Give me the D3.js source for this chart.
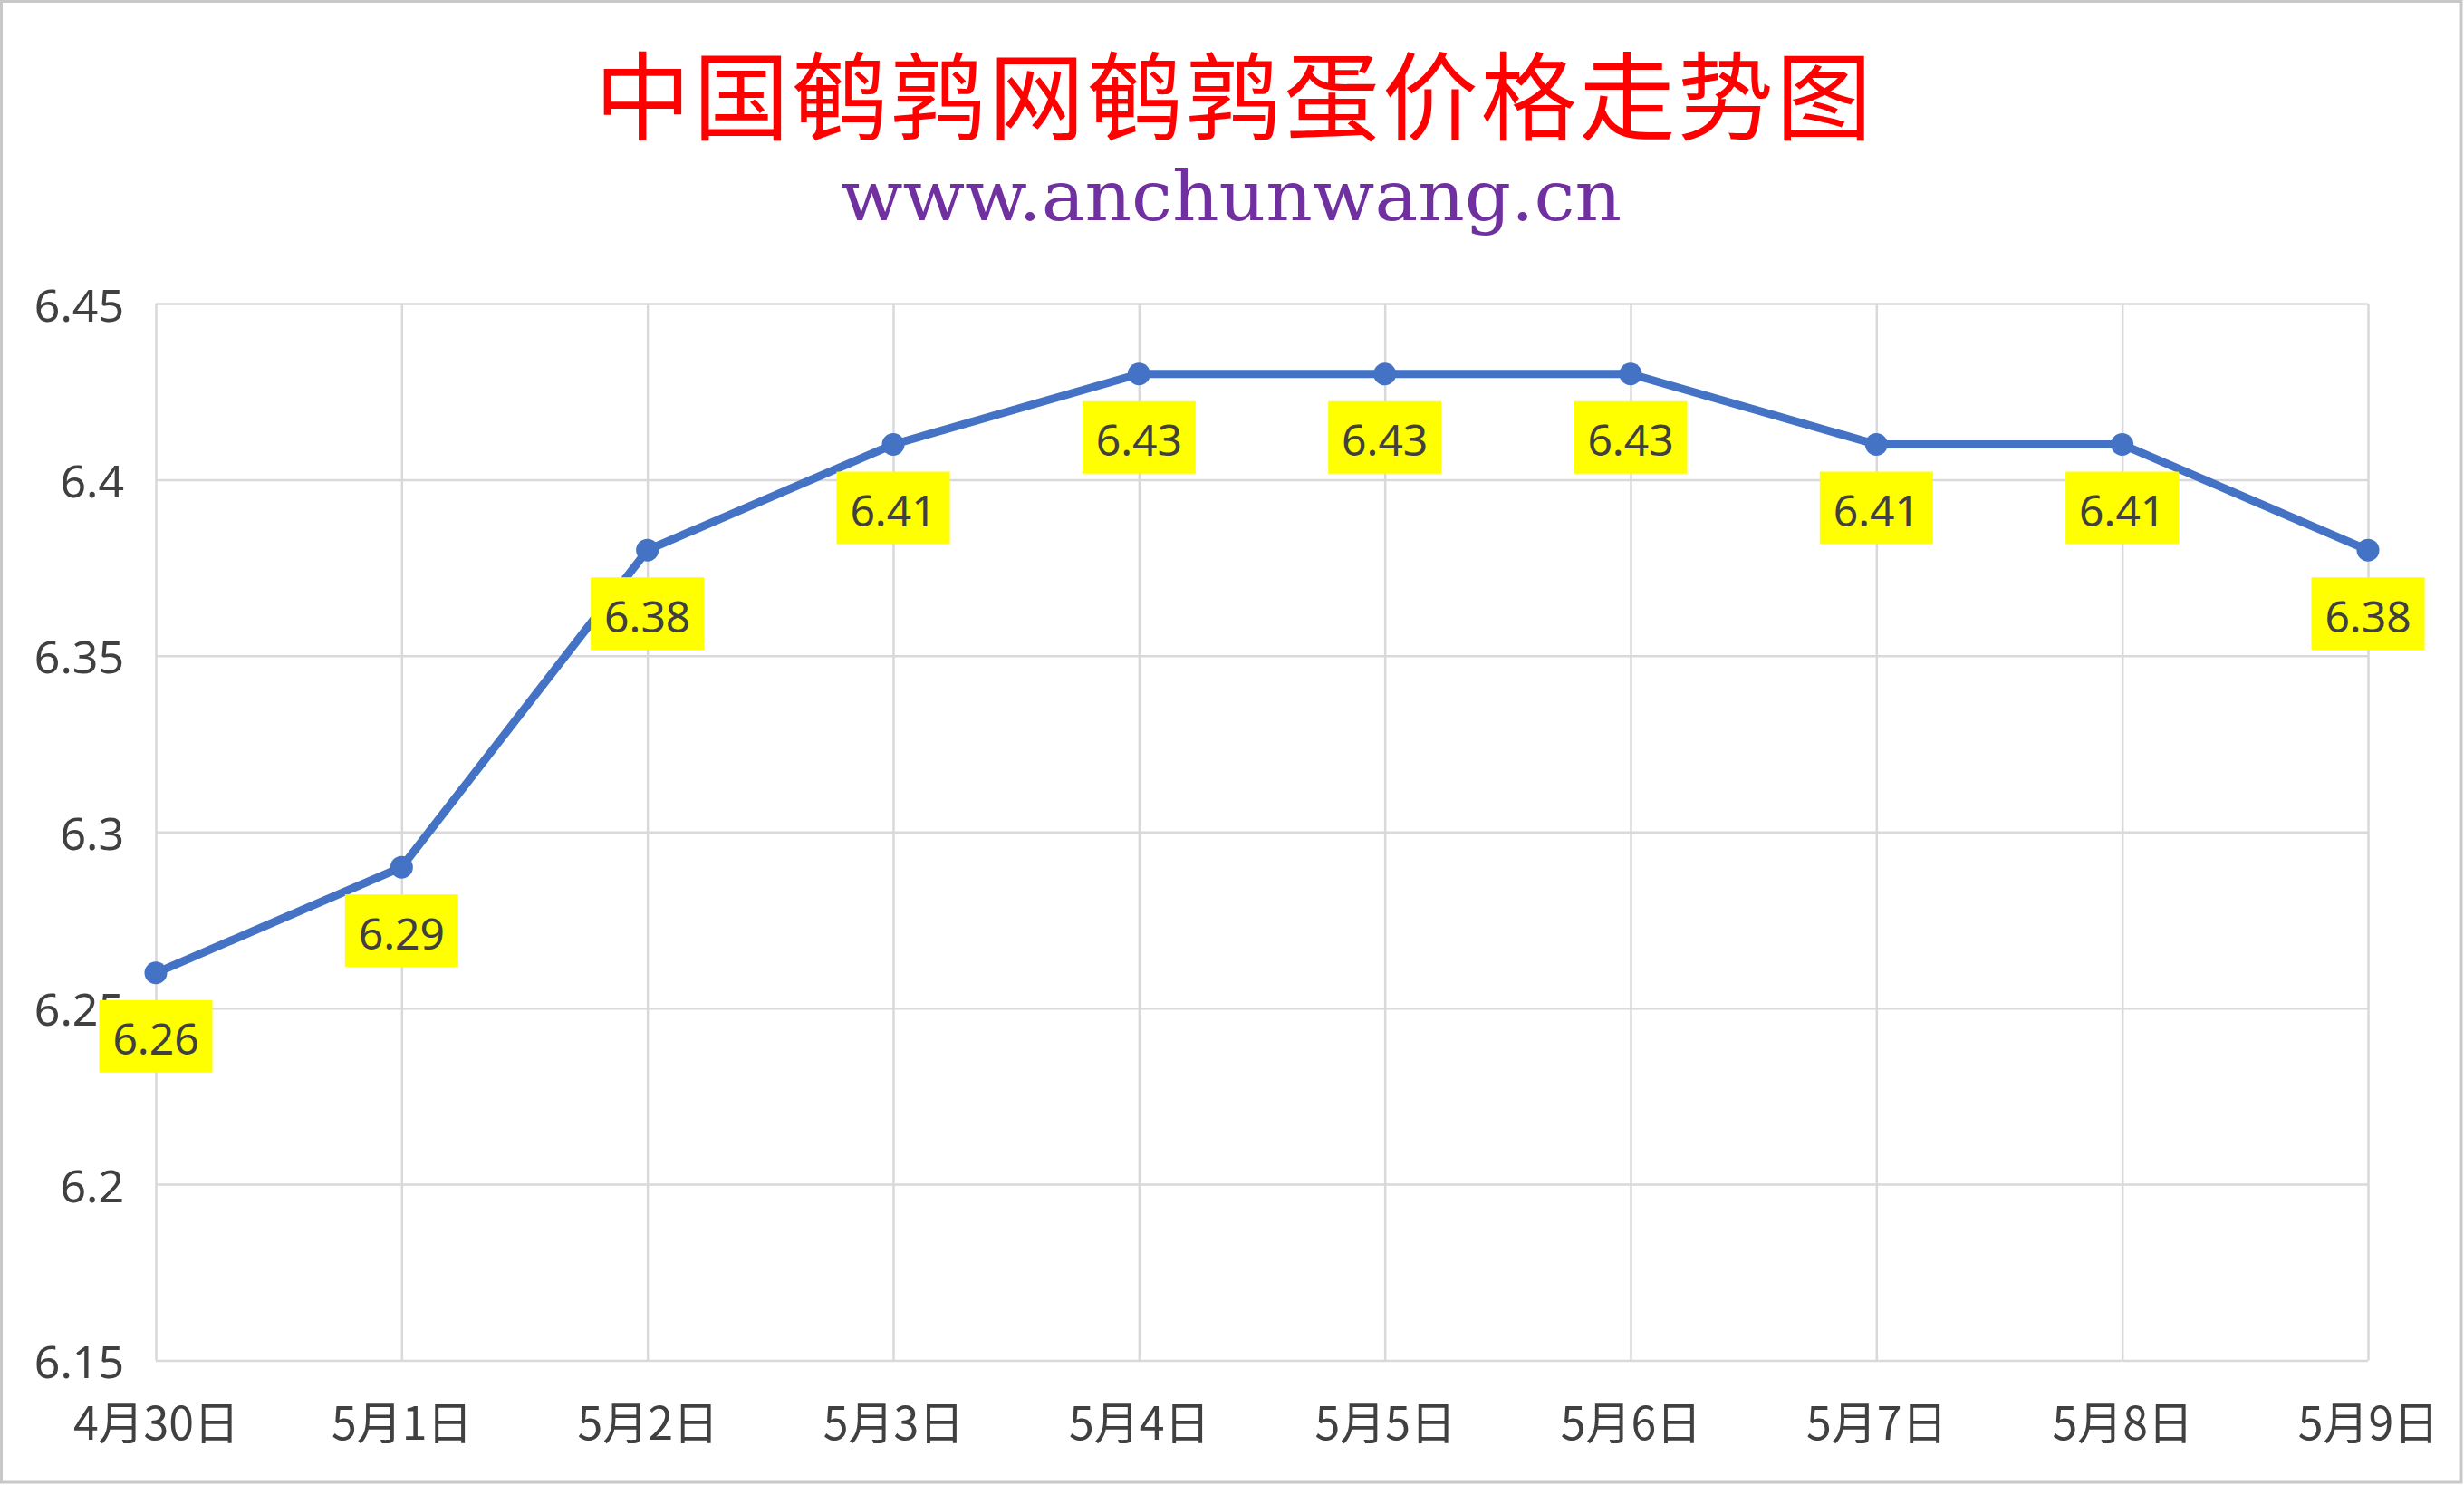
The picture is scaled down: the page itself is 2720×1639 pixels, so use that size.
<!DOCTYPE html>
<html>
<head>
<meta charset="utf-8">
<script src="https://cdn.jsdelivr.net/npm/d3@7"></script>
<style>
  html, body { margin: 0; padding: 0; background: #ffffff; }
  svg { display: block; }
</style>
</head>
<body>
<svg id="chart" width="2720" height="1639"></svg>
<script>
// ---- data ----
const titleText = "中国鹌鹑网鹌鹑蛋价格走势图";
const subtitleText = "www.anchunwang.cn";
const categories = ["4月30日", "5月1日", "5月2日", "5月3日", "5月4日", "5月5日", "5月6日", "5月7日", "5月8日", "5月9日"];
const prices = [6.26, 6.29, 6.38, 6.41, 6.43, 6.43, 6.43, 6.41, 6.41, 6.38];
const yTicks = [6.15, 6.2, 6.25, 6.3, 6.35, 6.4, 6.45];
const yTickLabels = ["6.15", "6.2", "6.25", "6.3", "6.35", "6.4", "6.45"];
const yDomain = [6.15, 6.45];

// ---- layout ----
const W = 2720, H = 1639;
const plot = { left: 172, right: 2614, top: 335, bottom: 1501.5 };
const svg = d3.select("#chart");

// background + border
svg.append("rect").attr("x", 0).attr("y", 0).attr("width", W).attr("height", H).attr("fill", "#ffffff");
svg.append("rect").attr("x", 1.5).attr("y", 1.5).attr("width", W - 4.5).attr("height", H - 4.5)
  .attr("fill", "none").attr("stroke", "#C8C8C8").attr("stroke-width", 3);

// scales
const x = d3.scalePoint().domain(categories).range([plot.left, plot.right]).padding(0);
const y = d3.scaleLinear().domain(yDomain).range([plot.bottom, plot.top]);

const gridColor = "#D9D9D9";
const textColor = "#404040";

// y axis + horizontal gridlines
const yAxis = d3.axisLeft(y)
  .tickValues(yTicks)
  .tickFormat((d, i) => yTickLabels[i])
  .tickSize(-(plot.right - plot.left))
  .tickPadding(35);
const gy = svg.append("g").attr("transform", `translate(${plot.left},0)`).call(yAxis);
gy.select(".domain").remove();
gy.selectAll(".tick line").attr("stroke", gridColor).attr("stroke-width", 2.5);
gy.selectAll(".tick text")
  .attr("x", 137 - plot.left)
  .attr("dy", null)
  .attr("dominant-baseline", "central")
  .attr("text-anchor", "end")
  .attr("fill", textColor)
  .style("font-family", "'Noto Sans', 'DejaVu Sans', sans-serif")
  .style("font-size", "50px");

// x axis + vertical gridlines
const xAxis = d3.axisBottom(x)
  .tickSize(-(plot.bottom - plot.top))
  .tickPadding(0);
const gx = svg.append("g").attr("transform", `translate(0,${plot.bottom})`).call(xAxis);
gx.select(".domain").remove();
gx.selectAll(".tick line").attr("stroke", gridColor).attr("stroke-width", 2.5);
gx.selectAll(".tick text")
  .attr("y", 1567 - plot.bottom)
  .attr("dy", null)
  .attr("dominant-baseline", "central")
  .attr("fill", textColor)
  .style("font-family", "'Noto Sans CJK SC', 'Noto Sans', sans-serif")
  .style("font-size", "50px");

// line
const lineColor = "#4472C4";
const line = d3.line().x((d, i) => x(categories[i])).y(d => y(d));
svg.append("path")
  .datum(prices)
  .attr("d", line)
  .attr("fill", "none")
  .attr("stroke", lineColor)
  .attr("stroke-width", 9)
  .attr("stroke-linejoin", "round")
  .attr("stroke-linecap", "round");

// markers
svg.append("g").selectAll("circle")
  .data(prices)
  .join("circle")
  .attr("cx", (d, i) => x(categories[i]))
  .attr("cy", d => y(d))
  .attr("r", 12.5)
  .attr("fill", lineColor);

// data labels
const labW = 125, labH = 80, labOff = 70;
const labels = svg.append("g").selectAll("g")
  .data(prices)
  .join("g")
  .attr("transform", (d, i) => `translate(${x(categories[i])},${y(d) + labOff})`);
labels.append("rect")
  .attr("x", -labW / 2).attr("y", -labH / 2)
  .attr("width", labW).attr("height", labH)
  .attr("fill", "#FFFF00");
labels.append("text")
  .attr("text-anchor", "middle")
  .attr("dominant-baseline", "central")
  .attr("y", 2)
  .attr("fill", textColor)
  .style("font-family", "'Noto Sans', 'DejaVu Sans', sans-serif")
  .style("font-size", "48px")
  .text(d => d.toFixed(2));

// title
svg.append("text")
  .attr("x", 1361.5)
  .attr("y", 146)
  .attr("text-anchor", "middle")
  .attr("fill", "#FF0000")
  .attr("textLength", 1410)
  .attr("lengthAdjust", "spacing")
  .style("font-family", "'Noto Sans CJK SC', sans-serif")
  .style("font-size", "106px")
  .text(titleText);

// subtitle
svg.append("text")
  .attr("x", 1359)
  .attr("y", 243)
  .attr("text-anchor", "middle")
  .attr("fill", "#7030A0")
  .attr("textLength", 862)
  .attr("lengthAdjust", "spacingAndGlyphs")
  .style("font-family", "'DejaVu Serif', 'Liberation Serif', serif")
  .style("font-size", "76px")
  .text(subtitleText);
</script>
</body>
</html>
